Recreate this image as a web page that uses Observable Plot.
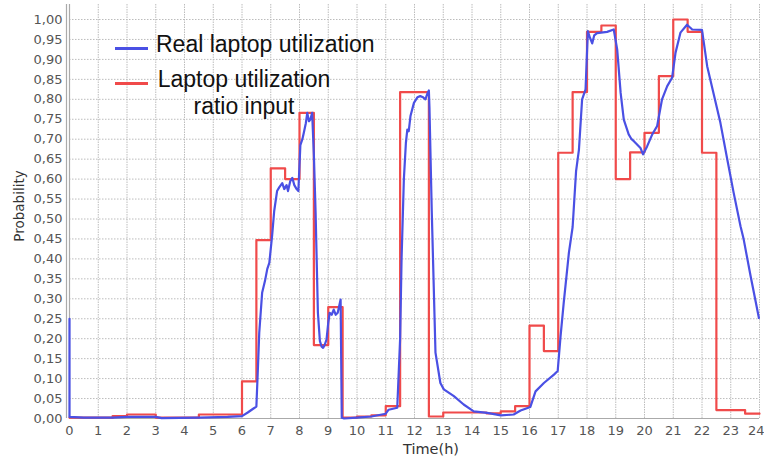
<!DOCTYPE html>
<html>
<head>
<meta charset="utf-8">
<script src="https://cdn.jsdelivr.net/npm/d3@7"></script>
<script src="https://cdn.jsdelivr.net/npm/@observablehq/plot@0.6"></script>
<style>
  body { margin: 0; background: #fff; }
  #wrap { position: relative; width: 764px; height: 459px; font-family: "DejaVu Sans", sans-serif; }
  .leg { position: absolute; font-family: "Liberation Sans", Arial, sans-serif; font-size: 23px; color: #111; line-height: 27px; }
  .sw { position: absolute; height: 2.5px; width: 33px; }
  .ylab { position: absolute; left: 19px; top: 206px; transform: translate(-50%,-50%) rotate(-90deg); font-size: 13.5px; color: #333; white-space: nowrap; }
  .xlab { position: absolute; left: 431px; top: 441px; transform: translateX(-50%); font-size: 14.5px; color: #333; white-space: nowrap; }
</style>
</head>
<body>
<div id="wrap"></div>
<script>
// Real laptop utilization (hour, probability)
const realHours = [0,0,0.5,1.5,2,3,3.2,4.5,5.5,6.0,6.2,6.4,6.5,6.55,6.6,6.7,6.8,6.88,6.95,7.05,7.12,7.22,7.3,7.4,7.47,7.55,7.6,7.68,7.75,7.82,7.9,7.96,8.03,8.1,8.15,8.22,8.27,8.33,8.38,8.44,8.5,8.56,8.64,8.71,8.77,8.82,8.88,8.94,9.0,9.05,9.12,9.19,9.26,9.33,9.43,9.47,9.55,10,10.5,11,11.1,11.4,11.5,11.55,11.63,11.7,11.75,11.8,11.86,11.98,12.1,12.2,12.3,12.38,12.45,12.5,12.52,12.6,12.73,12.9,13.02,13.37,13.71,14.06,14.53,15,15.45,15.69,16.03,16.21,16.5,16.85,16.98,17.08,17.19,17.37,17.5,17.62,17.72,17.83,17.95,18.03,18.1,18.18,18.25,18.35,18.7,18.93,19.05,19.17,19.28,19.45,19.55,19.63,19.86,19.95,20.09,20.27,20.44,20.61,20.79,20.96,21.08,21.25,21.48,21.66,22.0,22.18,22.41,22.64,22.88,23.1,23.34,23.45,23.69,23.98];
const realValues = [0.25,0.004,0.002,0.002,0.004,0.004,0.001,0.002,0.004,0.006,0.015,0.025,0.03,0.12,0.215,0.315,0.345,0.375,0.39,0.46,0.52,0.57,0.58,0.59,0.575,0.585,0.57,0.595,0.603,0.585,0.575,0.57,0.685,0.7,0.716,0.74,0.766,0.745,0.75,0.766,0.66,0.516,0.265,0.194,0.18,0.177,0.185,0.198,0.24,0.265,0.26,0.273,0.26,0.265,0.298,0.002,0.0,0.002,0.005,0.012,0.022,0.027,0.2,0.4,0.6,0.69,0.724,0.72,0.758,0.791,0.805,0.808,0.805,0.8,0.815,0.822,0.78,0.52,0.165,0.089,0.073,0.056,0.035,0.018,0.014,0.008,0.01,0.02,0.029,0.068,0.089,0.11,0.119,0.206,0.29,0.415,0.48,0.62,0.674,0.8,0.825,0.971,0.955,0.94,0.96,0.966,0.969,0.975,0.925,0.816,0.749,0.712,0.7,0.695,0.678,0.662,0.682,0.712,0.733,0.8,0.833,0.854,0.917,0.967,0.987,0.975,0.974,0.883,0.812,0.741,0.649,0.566,0.482,0.449,0.357,0.252];

// Laptop utilization ratio input (step start hour, probability)
const inputHours = [0,1.5,2,3,4.5,6,6.5,7,7.5,8,8.5,9,9.5,10,10.5,11,11.5,12.5,13,14.5,15,15.5,16,16.5,17,17.5,18,18.5,19,19.5,20,20.5,21,21.5,22,22.5,23.5,24];
const inputValues = [0.002,0.006,0.01,0.002,0.01,0.093,0.447,0.627,0.6,0.766,0.184,0.279,0.002,0.005,0.008,0.031,0.818,0.005,0.015,0.013,0.018,0.031,0.233,0.169,0.666,0.818,0.969,0.985,0.6,0.667,0.716,0.858,1.0,0.969,0.666,0.021,0.012,0.012];

const xTicks = d3.range(0, 25, 1);
const yTicks = d3.range(0, 21).map(i => i * 0.05);
const seriesNames = ["Real laptop utilization", "Laptop utilization ratio input"];
const seriesColors = ["#4a50e4", "#f04a4a"];

const real = realHours.map((h, i) => ({h, v: realValues[i]}));
const input = inputHours.map((h, i) => ({h, v: inputValues[i]}));

const fmt = d => d.toFixed(2).replace(".", ",");

const chart = Plot.plot({
  width: 764,
  height: 459,
  marginLeft: 69,
  marginRight: 5,
  marginTop: 4,
  marginBottom: 41,
  style: {fontFamily: "DejaVu Sans, sans-serif", fontSize: "13px", background: "#fff"},
  x: {domain: [0, 24], ticks: xTicks, tickSize: 0, tickPadding: 7, label: null},
  y: {domain: [0, 1.0376], ticks: yTicks, tickFormat: fmt, tickSize: 0, tickPadding: 7, label: null},
  marks: [
    Plot.gridX(xTicks, {stroke: "#bcbcbc", strokeOpacity: 1, strokeDasharray: "1.5,1"}),
    Plot.gridY(yTicks, {stroke: "#bcbcbc", strokeOpacity: 1, strokeDasharray: "1.5,1.5"}),
    Plot.axisX(xTicks.slice(0, -1), {tickSize: 0, tickPadding: 7, fill: "#555", label: null}),
    Plot.axisX(xTicks.slice(-1), {tickSize: 0, tickPadding: 7, fill: "#555", label: null, textAnchor: "end", dx: 5}),
    Plot.axisY({ticks: yTicks, tickFormat: fmt, tickSize: 0, tickPadding: 7, fill: "#555", label: null}),
    Plot.ruleY([0], {stroke: "#aaa", strokeWidth: 1.2}),
    Plot.ruleX([0], {stroke: "#aaa", strokeWidth: 1.2}),
    Plot.ruleX([0], {stroke: "#aaa", strokeWidth: 1.2, dx: -3}),
    Plot.line(input, {x: "h", y: "v", curve: "step-after", stroke: seriesColors[1], strokeWidth: 2.2}),
    Plot.line(real, {x: "h", y: "v", stroke: seriesColors[0], strokeWidth: 2.2})
  ]
});

const wrap = document.getElementById("wrap");
wrap.appendChild(chart);

function addSwatch(color, left, top) {
  const s = document.createElement("div");
  s.className = "sw";
  s.style.left = left + "px"; s.style.top = top + "px"; s.style.background = color;
  wrap.appendChild(s);
}
addSwatch(seriesColors[0], 115, 47);
addSwatch(seriesColors[1], 115, 82);

const l1 = document.createElement("div");
l1.className = "leg"; l1.style.left = "156px"; l1.style.top = "31px";
l1.textContent = seriesNames[0];
wrap.appendChild(l1);

const l2 = document.createElement("div");
l2.className = "leg"; l2.style.left = "156px"; l2.style.top = "66px"; l2.style.width = "176px"; l2.style.textAlign = "center";
l2.innerHTML = "Laptop utilization<br>ratio input";
wrap.appendChild(l2);

const yl = document.createElement("div");
yl.className = "ylab"; yl.textContent = "Probability";
wrap.appendChild(yl);

const xl = document.createElement("div");
xl.className = "xlab"; xl.textContent = "Time(h)";
wrap.appendChild(xl);
</script>
</body>
</html>
